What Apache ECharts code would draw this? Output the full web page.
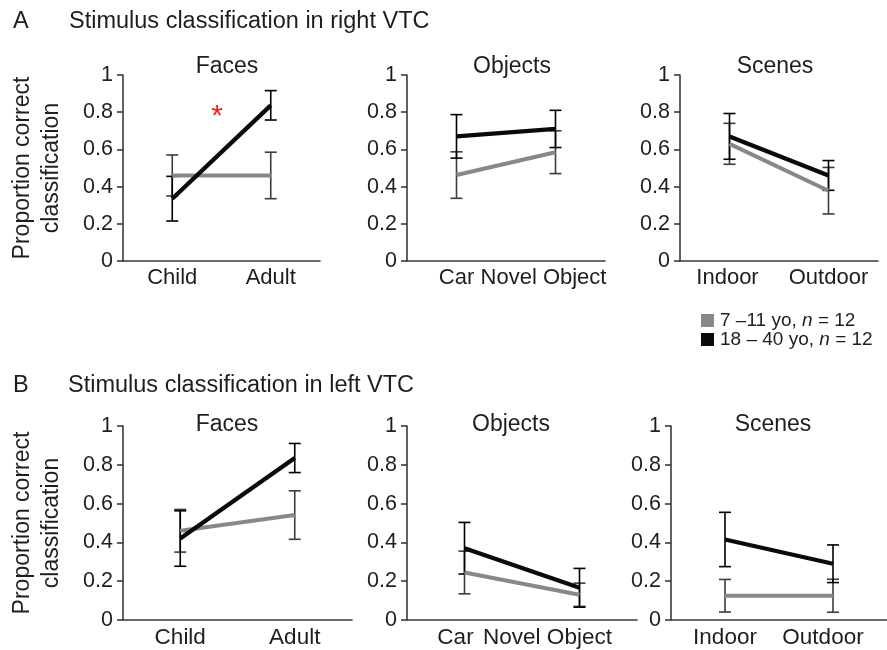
<!DOCTYPE html>
<html>
<head>
<meta charset="utf-8">
<script src="https://cdn.jsdelivr.net/npm/echarts@6/dist/echarts.min.js"></script>
<style>html,body{margin:0;padding:0;background:#fff;}#chart{width:887px;height:650px;}</style>
</head>
<body>
<div id="chart"></div>
<script>
// ---- categories & ticks ----
const faceCats = ['Child', 'Adult'];
const objectCats = ['Car', 'Novel Object'];
const sceneCats = ['Indoor', 'Outdoor'];
const yTicks = [0, 0.2, 0.4, 0.6, 0.8, 1];
const groupNames = ['7 \u201311 yo, n = 12', '18 \u2013 40 yo, n = 12'];

// ---- A: right VTC (mean, s.e.) ----
const rFacesYoung = [0.46, 0.46];   const rFacesYoungErr = [0.11, 0.125];
const rFacesAdult = [0.335, 0.837]; const rFacesAdultErr = [0.12, 0.079];
const rObjYoung = [0.462, 0.585];   const rObjYoungErr = [0.125, 0.115];
const rObjAdult = [0.67, 0.71];     const rObjAdultErr = [0.117, 0.10];
const rSceneYoung = [0.63, 0.378];  const rSceneYoungErr = [0.11, 0.125];
const rSceneAdult = [0.67, 0.46];   const rSceneAdultErr = [0.123, 0.08];

// ---- B: left VTC ----
const lFacesYoung = [0.46, 0.541];  const lFacesYoungErr = [0.11, 0.125];
const lFacesAdult = [0.42, 0.835];  const lFacesAdultErr = [0.143, 0.075];
const lObjYoung = [0.245, 0.13];    const lObjYoungErr = [0.11, 0.06];
const lObjAdult = [0.37, 0.166];    const lObjAdultErr = [0.133, 0.10];
const lSceneYoung = [0.125, 0.125]; const lSceneYoungErr = [0.084, 0.085];
const lSceneAdult = [0.415, 0.29];  const lSceneAdultErr = [0.14, 0.097];

// ---- layout (not data) ----
const FONT = '"Liberation Sans", Arial, Helvetica, sans-serif';
const panels = [
  {cats: faceCats, y: rFacesYoung, ye: rFacesYoungErr, o: rFacesAdult, oe: rFacesAdultErr,
   grid: {left: 123, top: 75, width: 197, height: 186}, yName: true, shift: [0, 0], fs: 22},
  {cats: objectCats, y: rObjYoung, ye: rObjYoungErr, o: rObjAdult, oe: rObjAdultErr,
   grid: {left: 407, top: 75, width: 198, height: 186}, yName: false, shift: [0, -12], fs: 22},
  {cats: sceneCats, y: rSceneYoung, ye: rSceneYoungErr, o: rSceneAdult, oe: rSceneAdultErr,
   grid: {left: 680, top: 75, width: 198, height: 186}, yName: false, shift: [-2, 0], fs: 22},
  {cats: faceCats, y: lFacesYoung, ye: lFacesYoungErr, o: lFacesAdult, oe: lFacesAdultErr,
   grid: {left: 123, top: 426, width: 229, height: 194}, yName: true, shift: [0, 0], fs: 22.5},
  {cats: objectCats, y: lObjYoung, ye: lObjYoungErr, o: lObjAdult, oe: lObjAdultErr,
   grid: {left: 407, top: 426, width: 230, height: 194}, yName: false, shift: [-9, -32], fs: 22.5},
  {cats: sceneCats, y: lSceneYoung, ye: lSceneYoungErr, o: lSceneAdult, oe: lSceneAdultErr,
   grid: {left: 671, top: 426, width: 226, height: 194}, yName: false, shift: [0, -10], fs: 22.5}
];

const GRAY = '#888888', BLACK = '#0a0a0a', AXIS = '#3a3a3a', TXT = '#1e1e1e';

function errBarSeries(idx, means, errs, color, z) {
  return {
    type: 'custom', xAxisIndex: idx, yAxisIndex: idx, z: z, silent: true,
    data: means.map((m, i) => [i, m - errs[i], m + errs[i]]),
    encode: {x: 0, y: [1, 2]},
    renderItem: function (params, api) {
      const lo = api.coord([api.value(0), api.value(1)]);
      const hi = api.coord([api.value(0), api.value(2)]);
      const hw = 6;
      const st = {stroke: color, lineWidth: 1.6};
      return {type: 'group', children: [
        {type: 'line', shape: {x1: lo[0], y1: lo[1], x2: hi[0], y2: hi[1]}, style: st},
        {type: 'line', shape: {x1: lo[0] - hw, y1: lo[1], x2: lo[0] + hw, y2: lo[1]}, style: st},
        {type: 'line', shape: {x1: hi[0] - hw, y1: hi[1], x2: hi[0] + hw, y2: hi[1]}, style: st}
      ]};
    }
  };
}

const grid = [], xAxis = [], yAxis = [], series = [];
panels.forEach((p, idx) => {
  grid.push(Object.assign({containLabel: false}, p.grid));
  const rich = {};
  p.shift.forEach((s, i) => {
    rich['r' + i] = {fontSize: p.fs, fontFamily: FONT, color: TXT,
      padding: s < 0 ? [0, -2 * s, 0, 0] : [0, 0, 0, 2 * s]};
  });
  xAxis.push({
    type: 'category', gridIndex: idx, data: p.cats, boundaryGap: true,
    axisLine: {lineStyle: {color: AXIS, width: 1.6}},
    axisTick: {show: false},
    axisLabel: {fontSize: p.fs, fontFamily: FONT, color: TXT, margin: 6, interval: 0,
      formatter: (v, i) => p.shift[i] ? '{r' + i + '|' + v + '}' : v, rich: rich},
    splitLine: {show: false}
  });
  yAxis.push({
    type: 'value', gridIndex: idx, min: yTicks[0], max: yTicks[yTicks.length - 1], interval: 0.2,
    axisLine: {show: true, lineStyle: {color: AXIS, width: 1.6}},
    axisTick: {show: true, length: 6, lineStyle: {color: AXIS, width: 1.6}},
    axisLabel: {fontSize: 21.5, fontFamily: FONT, color: TXT, margin: 10,
      formatter: v => (v === 0 ? '0' : v === 1 ? '1' : v.toFixed(1))},
    splitLine: {show: false},
    name: p.yName ? 'Proportion correct\nclassification' : '',
    nameLocation: 'middle', nameRotate: 90, nameGap: 57,
    nameTextStyle: {fontSize: 23, fontFamily: FONT, color: TXT, lineHeight: 29}
  });
  series.push(errBarSeries(idx, p.y, p.ye, '#3c3c3c', 2));
  series.push(errBarSeries(idx, p.o, p.oe, '#000000', 3));
  series.push({
    type: 'line', name: groupNames[0], xAxisIndex: idx, yAxisIndex: idx, data: p.y, z: 4,
    showSymbol: false, symbol: 'none', silent: true,
    lineStyle: {color: GRAY, width: 4}, itemStyle: {color: GRAY}
  });
  series.push({
    type: 'line', name: groupNames[1], xAxisIndex: idx, yAxisIndex: idx, data: p.o, z: 5,
    showSymbol: false, symbol: 'none', silent: true,
    lineStyle: {color: BLACK, width: 4.3}, itemStyle: {color: BLACK}
  });
});

function txt(text, x, y, size, align, extra) {
  return {type: 'text', x: x, y: y, silent: true,
    style: Object.assign({text: text, fontSize: size, fontFamily: FONT, fill: TXT,
      align: align || 'left', verticalAlign: 'middle'}, extra || {})};
}

const chart = echarts.init(document.getElementById('chart'), null, {renderer: 'canvas'});
chart.setOption({
  backgroundColor: '#ffffff',
  animation: false,
  grid: grid, xAxis: xAxis, yAxis: yAxis, series: series,
  legend: {
    orient: 'vertical', left: 696, top: 306, itemWidth: 13, itemHeight: 13, itemGap: 0,
    icon: 'rect', data: groupNames, selectedMode: false,
    textStyle: {fontSize: 19, fontFamily: FONT, color: TXT, lineHeight: 18, padding: [0, 0, 0, 1],
      rich: {i: {fontStyle: 'italic', fontSize: 19, fontFamily: FONT, color: TXT, lineHeight: 18}}},
    formatter: name => name.replace(' n =', ' {i|n} =')
  },
  graphic: [
    txt('A', 13, 22, 23.5),
    txt('Stimulus classification in right VTC', 69, 22, 23.5),
    txt('B', 13, 386, 23.5),
    txt('Stimulus classification in left VTC', 68, 386, 23.5),
    txt('Faces', 227, 67, 23, 'center'),
    txt('Objects', 512, 67, 23, 'center'),
    txt('Scenes', 775, 67, 23, 'center'),
    txt('Faces', 227, 425, 23, 'center'),
    txt('Objects', 511, 425, 23, 'center'),
    txt('Scenes', 773, 425, 23, 'center'),
    txt('*', 217, 117, 30, 'center', {fill: '#e8271f'})
  ]
});
</script>
</body>
</html>
